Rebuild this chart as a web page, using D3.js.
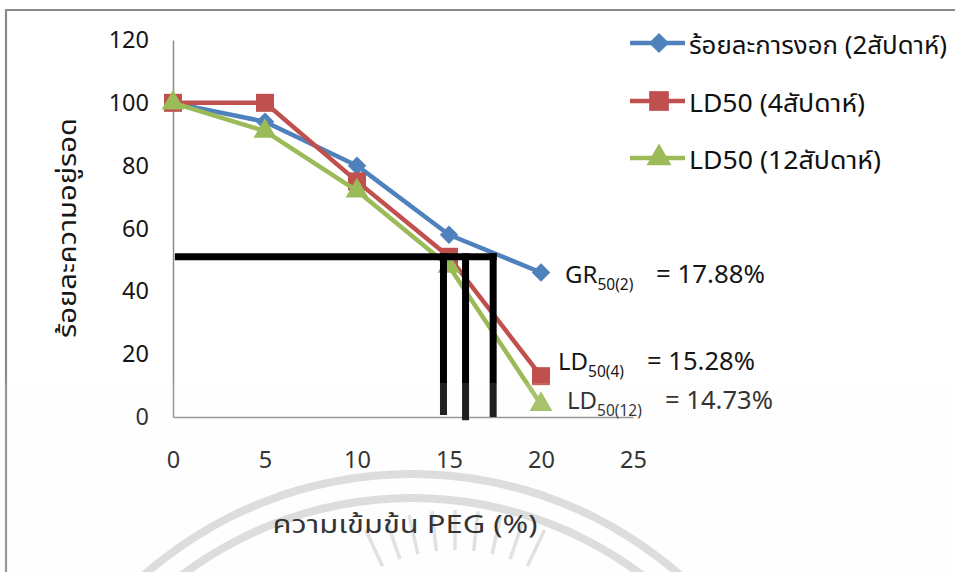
<!DOCTYPE html>
<html><head><meta charset="utf-8">
<script src="https://cdn.jsdelivr.net/npm/d3@7"></script>
<style>
body{margin:0;background:#fff;}
svg{display:block;}
text{font-family:"Noto Sans","Noto Sans Thai","Liberation Sans",sans-serif;}
</style></head>
<body><svg id="c" width="955" height="572"></svg>
<script>
// ---- data ----
const pegLevels = [0, 5, 10, 15, 20];
const seriesNames = ["ร้อยละการงอก (2สัปดาห์)", "LD50 (4สัปดาห์)", "LD50 (12สัปดาห์)"];
const germination2w = [100, 94, 80, 58, 46];
const survival4w = [100, 100, 75, 51, 13];
const survival12w = [100, 91, 72, 48, 4];
const xTicks = [0, 5, 10, 15, 20, 25];
const yTicks = [0, 20, 40, 60, 80, 100, 120];
const refLevel = 51;              // horizontal guide (about 50 %)
const refXs = [14.7, 15.9, 17.4]; // vertical guides as drawn
const refBottoms = [0.6, -1, 0];
const annMain = ["GR", "LD", "LD"];
const annSub = ["50(2)", "50(4)", "50(12)"];
const annVal = ["= 17.88%", "= 15.28%", "= 14.73%"];
const yTitle = "ร้อยละความอยู่รอด";
const xTitle = "ความเข้มข้น PEG (%)";

const colors = ["#4F81BD", "#C0504D", "#9BBB59"];
const seriesVals = [germination2w, survival4w, survival12w];
const ink = "#161616";

const svg = d3.select("#c");
// outer frame
svg.append("path").attr("d","M6,572 V10 H955").attr("fill","none").attr("stroke","#8a8a8a").attr("stroke-width",2.2);

// watermark (faint logo arcs and rays)
const wm = svg.append("g");
[[402,410],[378,386]].forEach(r=>{
  wm.append("path").attr("transform","translate(412,880)")
    .attr("d",d3.arc()({innerRadius:r[0],outerRadius:r[1],startAngle:-0.75,endAngle:0.75}))
    .attr("fill","#d9d9d9");
});
const rayAngles = [-0.44,-0.33,-0.22,-0.11,0,0.11,0.22,0.33,0.44];
rayAngles.forEach(a=>{
  const cx=455, cy=720, r1=170, r2=210;
  wm.append("line").attr("x1",cx+r1*Math.sin(a)).attr("y1",cy-r1*Math.cos(a))
    .attr("x2",cx+r2*Math.sin(a)).attr("y2",cy-r2*Math.cos(a)).attr("stroke-width",3.5).attr("stroke","#dedede");
});

const x = d3.scaleLinear().domain([0,25]).range([173,633]);
const y = d3.scaleLinear().domain([0,120]).range([417,40]);

// axes
const yAx = svg.append("g").attr("transform","translate(173,0)")
  .call(d3.axisLeft(y).tickValues(yTicks).tickSize(0).tickSizeOuter(0).tickPadding(24));
yAx.select(".domain").attr("stroke","#8c8c8c").attr("stroke-width",1.5);
yAx.selectAll("text").attr("font-size",23.5).attr("fill",ink);

const xAx = svg.append("g").attr("transform","translate(0,417)")
  .call(d3.axisBottom(x).tickValues(xTicks).tickSize(0).tickSizeOuter(0).tickPadding(34));
xAx.select(".domain").attr("stroke","#8c8c8c").attr("stroke-width",1.5);
xAx.selectAll("text").attr("font-size",23.5).attr("fill",ink);

// titles
svg.append("text").attr("transform","translate(76,228) rotate(-90)").attr("text-anchor","middle")
  .attr("font-size",24).attr("fill",ink).attr("textLength",220).attr("lengthAdjust","spacingAndGlyphs").text(yTitle);
svg.append("text").attr("x",405).attr("y",533).attr("text-anchor","middle")
  .attr("font-size",25).attr("fill",ink).attr("textLength",265).attr("lengthAdjust","spacingAndGlyphs").text(xTitle);

// square-rotated diamond like the spreadsheet marker
const squareDiamond = {draw(ctx,size){const r=Math.sqrt(size/2);ctx.moveTo(0,-r);ctx.lineTo(r,0);ctx.lineTo(0,r);ctx.lineTo(-r,0);ctx.closePath();}};

// series
const line = d3.line().x((d,i)=>x(pegLevels[i])).y(d=>y(d));
const symTypes = [squareDiamond, d3.symbolSquare, d3.symbolTriangle];
const symSizes = [170, 324, 225];
seriesVals.forEach((vals,si)=>{
  svg.append("path").attr("d",line(vals)).attr("fill","none").attr("stroke",colors[si]).attr("stroke-width",4.5).attr("stroke-linejoin","round");
  svg.append("g").selectAll("path").data(vals).join("path")
    .attr("transform",(d,i)=>`translate(${x(pegLevels[i])},${y(d)})`)
    .attr("d",d3.symbol().type(symTypes[si]).size(symSizes[si])).attr("fill",colors[si]);
});

// reference guides
const guides = svg.append("g").attr("stroke","#000").attr("stroke-width",7).attr("fill","none");
guides.append("line").attr("x1",x(0.1)).attr("x2",x(17.4)+3.5).attr("y1",y(refLevel)).attr("y2",y(refLevel));
refXs.forEach((v,i)=>{
  guides.append("line").attr("x1",x(v)).attr("x2",x(v)).attr("y1",y(refLevel)-3.5).attr("y2",y(refBottoms[i]));
});

// annotations
const annPos = [
  {x:565,y:283,ex:656,ew:109},
  {x:558,y:370,ex:647,ew:108},
  {x:567,y:409,ex:665,ew:108}
];
annMain.forEach((m,i)=>{
  const p = annPos[i];
  const t = svg.append("text").attr("x",p.x).attr("y",p.y).attr("font-size",24).attr("fill",ink);
  t.append("tspan").text(m);
  t.append("tspan").attr("font-size",15.5).attr("dy",7).text(annSub[i]);
  svg.append("text").attr("x",p.ex).attr("y",p.y).attr("font-size",25).attr("fill",ink)
    .attr("textLength",p.ew).attr("lengthAdjust","spacingAndGlyphs").text(annVal[i]);
});

// legend
const lg = svg.append("g");
const legY = [43, 101, 158];
const legW = [258, 176, 192];
seriesNames.forEach((n,i)=>{
  lg.append("line").attr("x1",630).attr("x2",685).attr("y1",legY[i]).attr("y2",legY[i]).attr("stroke",colors[i]).attr("stroke-width",4.5);
  lg.append("path").attr("transform",`translate(659,${legY[i]})`).attr("d",d3.symbol().type(symTypes[i]).size(symSizes[i]*1.2)).attr("fill",colors[i]);
  lg.append("text").attr("x",689).attr("y",legY[i]+11).attr("font-size",25).attr("fill","#111")
    .attr("textLength",legW[i]).attr("lengthAdjust","spacingAndGlyphs").text(n);
});

// faint lower overlay seen in the reference
svg.append("rect").attr("x",0).attr("y",383).attr("width",955).attr("height",189).attr("fill","#f4f4f4").attr("opacity",0.13);
</script></body></html>
